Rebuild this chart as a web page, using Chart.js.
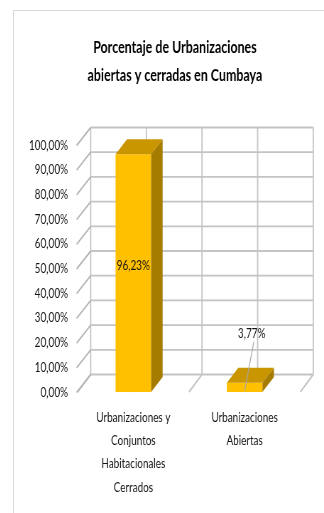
<!DOCTYPE html>
<html>
<head>
<meta charset="utf-8">
<script src="https://cdn.jsdelivr.net/npm/chart.js@4.4.0/dist/chart.umd.min.js"></script>
<style>
  html, body { margin: 0; padding: 0; background: #fff; overflow: hidden; width: 324px; height: 513px; }
  #frame { position: absolute; left: 13px; top: 10px; width: 340px; height: 520px; border: 1px solid #d9d9d9; box-sizing: border-box; }
  /* the whole chart is drawn wide and squeezed horizontally, like a condensed Excel export */
  #wrap { position: absolute; left: 13px; top: 10px; width: 456px; height: 503px; transform: scaleX(0.71); transform-origin: 0 0; }
</style>
</head>
<body>
<div id="frame"></div>
<div id="wrap"><canvas id="chart" width="456" height="503"></canvas></div>
<script>
// ─── Data ───
const TITLE = ['Porcentaje de Urbanizaciones', 'abiertas y cerradas en Cumbaya'];
const CATEGORIES = [
    ['Urbanizaciones y', 'Conjuntos', 'Habitacionales', 'Cerrados'],
    ['Urbanizaciones', 'Abiertas']
];
const PERCENTAGES = [96.23, 3.77];
const Y_TICKS = [0, 10, 20, 30, 40, 50, 60, 70, 80, 90, 100];

const FONT = 'Lato';
const TEXT = '#141414';
const GRID = '#c4c4c4';
const BAR_FRONT = '#ffc000';
const BAR_TOP = '#c99600';
const BAR_SIDE = '#a67c00';

// 3D depth offsets (wall and bar) in canvas px
const DEPTH = { wallX: 18.3, wallY: -17.5, barX: 16.2, barY: -15 };

const fmtPct = v => v.toFixed(2).replace('.', ',') + '%';

// ─── Walls, floor and gridlines behind the bars ───
const walls3d = {
    id: 'walls3d',
    beforeDatasetsDraw(chart) {
        const { ctx, chartArea: a, scales: { x, y } } = chart;
        const dx = DEPTH.wallX, dy = DEPTH.wallY;
        const y0 = y.getPixelForValue(Y_TICKS[0]);
        const yTop = y.getPixelForValue(Y_TICKS[Y_TICKS.length - 1]);
        ctx.save();
        ctx.strokeStyle = GRID;
        ctx.lineWidth = 1.8;
        ctx.beginPath();
        Y_TICKS.forEach(v => {
            const py = y.getPixelForValue(v);
            ctx.moveTo(a.left + dx, py + dy);
            ctx.lineTo(a.right + dx, py + dy);
        });
        const cols = [];
        CATEGORIES.forEach((c, i) => cols.push(i - 0.5, i));
        cols.push(CATEGORIES.length - 0.5);
        cols.forEach(v => {
            const px = x.getPixelForValue(v);
            ctx.moveTo(px + dx, y0 + dy);
            ctx.lineTo(px + dx, yTop + dy);
            // floor line running back
            ctx.moveTo(px, y0);
            ctx.lineTo(px + dx, y0 + dy);
        });
        ctx.stroke();

        // side wall ticks
        ctx.strokeStyle = '#b4b4b4';
        ctx.beginPath();
        Y_TICKS.forEach(v => {
            const py = y.getPixelForValue(v);
            ctx.moveTo(a.left - 1.5, py + 0.5);
            ctx.lineTo(a.left + dx, py + dy);
        });
        ctx.stroke();
        ctx.restore();
    }
};

// ─── Top and side faces of the bars, then value labels ───
const bars3d = {
    id: 'bars3d',
    afterDatasetsDraw(chart, args, opts) {
        const { ctx } = chart;
        const dx = DEPTH.barX, dy = DEPTH.barY;
        ctx.save();
        chart.getDatasetMeta(0).data.forEach((bar, i) => {
            const { x: cx, y: top, base, width } = bar.getProps(['x', 'y', 'base', 'width'], true);
            const l = cx - width / 2, r = cx + width / 2;

            ctx.fillStyle = BAR_TOP;
            ctx.beginPath();
            ctx.moveTo(l, top);
            ctx.lineTo(r, top);
            ctx.lineTo(r + dx, top + dy);
            ctx.lineTo(l + dx, top + dy);
            ctx.closePath();
            ctx.fill();

            ctx.fillStyle = BAR_SIDE;
            ctx.beginPath();
            ctx.moveTo(r, top);
            ctx.lineTo(r + dx, top + dy);
            ctx.lineTo(r + dx, base + dy);
            ctx.lineTo(r, base);
            ctx.closePath();
            ctx.fill();

            const place = opts.labels[i];
            let lx = cx, ly = (top + dy + base) / 2;
            if (place.outside) {
                lx = cx + place.dx;
                ly = top + place.dy;
                ctx.strokeStyle = '#a6a6a6';
                ctx.lineWidth = 1.2;
                ctx.beginPath();
                ctx.moveTo(lx + 3, ly + 8);
                ctx.lineTo(cx, base - 1);
                ctx.stroke();
            }
            ctx.font = `14px ${FONT}`;
            ctx.fillStyle = TEXT;
            ctx.textAlign = 'center';
            ctx.textBaseline = 'middle';
            ctx.fillText(fmtPct(PERCENTAGES[i]), lx, ly);
        });
        ctx.restore();
    }
};

new Chart(document.getElementById('chart'), {
    type: 'bar',
    data: {
        labels: CATEGORIES,
        datasets: [{
            data: PERCENTAGES,
            backgroundColor: BAR_FRONT,
            borderWidth: 0,
            barPercentage: 0.32,
            categoryPercentage: 1
        }]
    },
    options: {
        responsive: false,
        animation: false,
        layout: { padding: { left: 0, right: 0, top: 0, bottom: 10 } },
        plugins: {
            legend: { display: false },
            tooltip: { enabled: false },
            title: {
                display: true,
                text: TITLE,
                color: '#000',
                font: { family: FONT, size: 17.5, weight: 'bold', lineHeight: 1.6 },
                padding: { top: 23, bottom: 56 }
            },
            bars3d: {
                labels: [{ outside: false }, { outside: true, dx: 10, dy: -49 }]
            }
        },
        scales: {
            x: {
                grid: { display: false, drawTicks: false },
                border: { display: false },
                ticks: {
                    color: TEXT,
                    padding: 13.4,
                    maxRotation: 0,
                    autoSkip: false,
                    font: { family: FONT, size: 14, lineHeight: 1.665 }
                },
                afterFit: s => { s.height = 111; }
            },
            y: {
                min: 0,
                max: 100,
                grid: { display: false, drawTicks: false },
                border: { display: false },
                afterBuildTicks: s => { s.ticks = Y_TICKS.map(v => ({ value: v })); },
                ticks: {
                    color: TEXT,
                    padding: 13.6,
                    font: { family: FONT, size: 14 },
                    callback: v => fmtPct(v)
                },
                afterFit: s => { s.width = 91.1; }
            },
            // empty right-hand margin so the plot ends where the back wall does
            yRight: {
                position: 'right',
                grid: { display: false, drawTicks: false },
                border: { display: false },
                ticks: { display: false },
                afterFit: s => { s.width = 51.4; }
            }
        }
    },
    plugins: [walls3d, bars3d]
});
</script>
</body>
</html>
